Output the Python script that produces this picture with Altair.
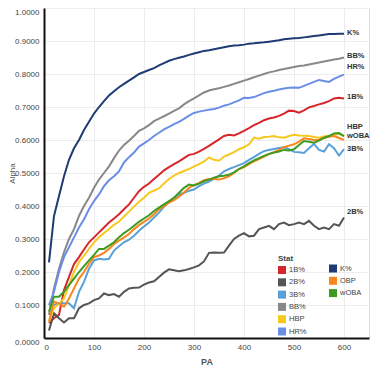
import altair as alt
import pandas as pd

pa = list(range(10, 601, 10))

k_pct = [0.229, 0.370, 0.430, 0.490, 0.540, 0.575, 0.600, 0.630, 0.655, 0.680,
         0.700, 0.718, 0.735, 0.748, 0.760, 0.770, 0.780, 0.790, 0.800, 0.806,
         0.812, 0.818, 0.826, 0.833, 0.840, 0.845, 0.849, 0.853, 0.858, 0.862,
         0.866, 0.870, 0.872, 0.875, 0.878, 0.881, 0.884, 0.886, 0.887, 0.889,
         0.892, 0.893, 0.895, 0.896, 0.898, 0.900, 0.902, 0.905, 0.907, 0.908,
         0.909, 0.911, 0.913, 0.915, 0.917, 0.919, 0.921, 0.921, 0.922, 0.922]
bb_pct = [0.070, 0.150, 0.210, 0.260, 0.300, 0.330, 0.370, 0.400, 0.425, 0.455,
          0.480, 0.500, 0.520, 0.545, 0.568, 0.585, 0.598, 0.612, 0.628, 0.635,
          0.645, 0.657, 0.665, 0.672, 0.680, 0.688, 0.696, 0.708, 0.718, 0.726,
          0.735, 0.744, 0.750, 0.754, 0.757, 0.761, 0.765, 0.770, 0.775, 0.780,
          0.785, 0.790, 0.795, 0.800, 0.805, 0.808, 0.812, 0.815, 0.818, 0.821,
          0.824, 0.826, 0.829, 0.832, 0.835, 0.838, 0.841, 0.844, 0.846, 0.850]
hr_pct = [0.100, 0.140, 0.200, 0.245, 0.275, 0.305, 0.335, 0.360, 0.390, 0.415,
          0.435, 0.460, 0.478, 0.490, 0.505, 0.532, 0.548, 0.562, 0.580, 0.590,
          0.600, 0.612, 0.622, 0.632, 0.640, 0.648, 0.655, 0.664, 0.674, 0.682,
          0.686, 0.689, 0.692, 0.694, 0.698, 0.704, 0.708, 0.714, 0.720, 0.728,
          0.727, 0.730, 0.736, 0.742, 0.746, 0.749, 0.753, 0.756, 0.758, 0.759,
          0.758, 0.764, 0.770, 0.776, 0.782, 0.779, 0.776, 0.785, 0.792, 0.798]
b1_pct = [0.045, 0.060, 0.070, 0.145, 0.185, 0.224, 0.245, 0.268, 0.290, 0.305,
          0.320, 0.335, 0.350, 0.362, 0.375, 0.390, 0.405, 0.425, 0.445, 0.458,
          0.468, 0.482, 0.495, 0.508, 0.518, 0.527, 0.535, 0.545, 0.555, 0.558,
          0.565, 0.573, 0.582, 0.592, 0.602, 0.612, 0.616, 0.614, 0.620, 0.628,
          0.636, 0.645, 0.652, 0.660, 0.665, 0.668, 0.673, 0.680, 0.689, 0.688,
          0.683, 0.690, 0.699, 0.703, 0.708, 0.712, 0.718, 0.726, 0.728, 0.726]
hbp = [0.050, 0.090, 0.105, 0.120, 0.160, 0.200, 0.230, 0.250, 0.270, 0.290,
       0.305, 0.318, 0.330, 0.343, 0.353, 0.368, 0.383, 0.398, 0.413, 0.425,
       0.440, 0.447, 0.453, 0.468, 0.482, 0.492, 0.500, 0.506, 0.512, 0.520,
       0.527, 0.535, 0.547, 0.540, 0.537, 0.550, 0.556, 0.563, 0.572, 0.578,
       0.587, 0.607, 0.604, 0.609, 0.610, 0.612, 0.608, 0.607, 0.612, 0.616,
       0.614, 0.613, 0.612, 0.609, 0.607, 0.611, 0.613, 0.616, 0.619, 0.612]
b3_pct = [0.100, 0.100, 0.105, 0.105, 0.105, 0.090, 0.140, 0.170, 0.210, 0.235,
          0.240, 0.238, 0.240, 0.265, 0.278, 0.290, 0.298, 0.310, 0.325, 0.338,
          0.350, 0.365, 0.380, 0.398, 0.412, 0.425, 0.435, 0.440, 0.446, 0.450,
          0.460, 0.468, 0.474, 0.482, 0.492, 0.505, 0.512, 0.518, 0.524, 0.530,
          0.540, 0.548, 0.558, 0.566, 0.570, 0.573, 0.576, 0.578, 0.572, 0.564,
          0.563, 0.561, 0.575, 0.588, 0.570, 0.565, 0.587, 0.575, 0.553, 0.572]
obp = [0.050, 0.110, 0.105, 0.095, 0.120, 0.150, 0.180, 0.200, 0.225, 0.245,
       0.250, 0.258, 0.270, 0.285, 0.295, 0.305, 0.315, 0.330, 0.342, 0.352,
       0.362, 0.375, 0.390, 0.400, 0.410, 0.418, 0.428, 0.440, 0.455, 0.463,
       0.470, 0.478, 0.482, 0.482, 0.480, 0.484, 0.490, 0.500, 0.512, 0.518,
       0.527, 0.535, 0.542, 0.550, 0.557, 0.563, 0.570, 0.578, 0.583, 0.587,
       0.595, 0.605, 0.603, 0.600, 0.601, 0.606, 0.610, 0.612, 0.606, 0.600]
woba = [0.080, 0.125, 0.125, 0.140, 0.160, 0.180, 0.200, 0.218, 0.235, 0.252,
        0.270, 0.270, 0.280, 0.290, 0.305, 0.318, 0.328, 0.340, 0.352, 0.362,
        0.372, 0.385, 0.395, 0.405, 0.415, 0.425, 0.440, 0.455, 0.465, 0.462,
        0.468, 0.475, 0.480, 0.486, 0.490, 0.492, 0.495, 0.502, 0.512, 0.520,
        0.530, 0.538, 0.545, 0.552, 0.558, 0.562, 0.565, 0.570, 0.568, 0.572,
        0.585, 0.597, 0.595, 0.592, 0.598, 0.607, 0.612, 0.620, 0.621, 0.612]
b2_pct = [0.023, 0.075, 0.060, 0.047, 0.060, 0.060, 0.090, 0.100, 0.105, 0.115,
          0.120, 0.135, 0.130, 0.133, 0.125, 0.140, 0.150, 0.152, 0.153, 0.162,
          0.168, 0.172, 0.185, 0.198, 0.208, 0.205, 0.202, 0.205, 0.209, 0.214,
          0.220, 0.232, 0.258, 0.259, 0.258, 0.259, 0.280, 0.300, 0.310, 0.318,
          0.308, 0.310, 0.330, 0.335, 0.340, 0.330, 0.345, 0.350, 0.342, 0.345,
          0.350, 0.345, 0.355, 0.340, 0.330, 0.335, 0.330, 0.345, 0.340, 0.365]

stats = ["1B%", "2B%", "3B%", "BB%", "HBP", "HR%", "K%", "OBP", "wOBA"]
colors = ["#d7262b", "#555555", "#5aa0d8", "#888888", "#f7c81e", "#6a8ee8",
          "#1f3b73", "#f8861e", "#3f9b20"]
series = [b1_pct, b2_pct, b3_pct, bb_pct, hbp, hr_pct, k_pct, obp, woba]

label_stats = ["K%", "BB%", "HR%", "1B%", "HBP", "wOBA", "3B%", "2B%"]
label_vals = [0.923, 0.854, 0.821, 0.729, 0.639, 0.613, 0.574, 0.383]
label_pa = [606] * len(label_stats)

y_ticks = [0, 0.1, 0.2, 0.3, 0.4, 0.5, 0.6, 0.7, 0.8, 0.9, 1.0]
x_ticks = [0, 100, 200, 300, 400, 500, 600]

rows = []
for s, vals in zip(stats, series):
    for p, v in zip(pa, vals):
        rows.append({"PA": p, "Alpha": v, "Stat": s})
df = pd.DataFrame(rows)
lab_df = pd.DataFrame({"PA": label_pa, "Alpha": label_vals, "Stat": label_stats})

FONT = "Liberation Sans"
x_scale = alt.Scale(domain=[0, 650], nice=False)
y_scale = alt.Scale(domain=[0, 1], nice=False)

x_axis = alt.Axis(values=x_ticks, format="d", tickCount=7,
                  tickSize=0, labelPadding=5, labelFontSize=8,
                  labelColor="#444", titleFontSize=9, titleColor="#555",
                  titleFontWeight="bold", titlePadding=6,
                  domainColor="#111", domainWidth=2, labelOverlap=False,
                  gridColor="#ececec", labelFont=FONT, titleFont=FONT)
y_axis = alt.Axis(values=y_ticks, tickCount=11,
                  format=".4f", tickSize=0, labelPadding=5, labelFontSize=8,
                  labelColor="#444", titleFontSize=8, titleColor="#555",
                  titleFontWeight="normal", titleX=-28, titleY=165,
                  labelOverlap=False, labelBound=False,
                  labelBaseline={"condition": {"test": "datum.value <= 0 || datum.value >= 1",
                                               "value": "top"},
                                 "value": "middle"},
                  domainColor="#111", domainWidth=2,
                  gridColor="#ececec", labelFont=FONT, titleFont=FONT)


def xe():
    return alt.X("PA:Q", title="PA", scale=x_scale, axis=x_axis)


def ye():
    return alt.Y("Alpha:Q", title="Alpha", scale=y_scale, axis=y_axis)


lines = alt.Chart(df).mark_line(strokeWidth=2).encode(
    x=xe(), y=ye(),
    stroke=alt.Stroke("Stat:N", scale=alt.Scale(domain=stats, range=colors), legend=None),
)

labels = alt.Chart(lab_df).mark_text(
    align="left", baseline="middle", fontSize=7.5, fontWeight="bold",
    color="#333", font=FONT
).encode(x=xe(), y=ye(), text="Stat:N")

col1 = stats[:6]
col2 = stats[6:]
leg_common = dict(orient="none", symbolType="square", symbolSize=64,
                  symbolStrokeWidth=0, symbolOpacity=1, labelFontSize=7.5,
                  labelColor="#444", labelFont=FONT, rowPadding=4.3,
                  labelOffset=3, padding=0)

leg1 = alt.Chart(df).transform_filter("false").mark_square(opacity=1).encode(
    x=xe(), y=ye(),
    color=alt.Color("Stat:N", scale=alt.Scale(domain=col1, range=colors[:6]),
                    legend=alt.Legend(title="Stat", legendX=234, legendY=247,
                                      titleFontSize=8, titleColor="#444",
                                      titleFont=FONT, titlePadding=3, **leg_common)),
)
leg2 = alt.Chart(df).transform_filter("false").mark_square(opacity=1).encode(
    x=xe(), y=ye(),
    fill=alt.Fill("Stat:N", scale=alt.Scale(domain=col2, range=colors[6:]),
                  legend=alt.Legend(title=None, legendX=285, legendY=256.5, **leg_common)),
)

chart = alt.layer(lines, labels, leg1, leg2).resolve_scale(
    color="independent", fill="independent", stroke="independent"
).properties(
    width=325, height=330,
    autosize=alt.AutoSizeParams(type="none"),
    padding={"left": 36, "top": 0, "right": 2, "bottom": 30},
).configure_view(stroke="#555", strokeWidth=1.2).configure(font=FONT)

chart.save("out.html", embed_options={"renderer": "svg", "actions": False})
